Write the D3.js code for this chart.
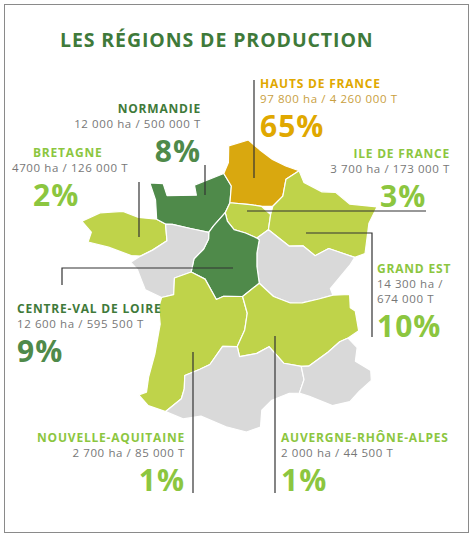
<!DOCTYPE html>
<html><head><meta charset="utf-8">
<script src="https://cdn.jsdelivr.net/npm/d3@7"></script>
<style>body{margin:0;background:#fff}text{font-family:"Open Sans",sans-serif}</style>
</head><body><svg id="c" width="474" height="537"></svg>
<script>
const title = "LES RÉGIONS DE PRODUCTION";
const regionNames = ["HAUTS DE FRANCE","NORMANDIE","BRETAGNE","ILE DE FRANCE","GRAND EST","CENTRE-VAL DE LOIRE","NOUVELLE-AQUITAINE","AUVERGNE-RHÔNE-ALPES"];
const surfaces = ["97 800 ha / 4 260 000 T","12 000 ha / 500 000 T","4700 ha / 126 000 T","3 700 ha / 173 000 T","14 300 ha /|674 000 T","12 600 ha / 595 500 T","2 700 ha / 85 000 T","2 000 ha / 44 500 T"];
const shares = [65,8,2,3,10,9,1,1];
const shapes = {
 "BRETAGNE":[[-1.5,48.63],[-2.3,48.65],[-3.0,48.8],[-4.0,48.7],[-4.75,48.4],[-4.3,48.1],[-4.4,47.8],[-3.5,47.7],[-2.5,47.5],[-2.1,47.5],[-1.6,47.7],[-1.0,48.0],[-1.1,48.5]],
 "NORMANDIE":[[-1.5,48.63],[-1.6,49.2],[-1.9,49.7],[-1.3,49.7],[-1.1,49.35],[0.2,49.4],[0.1,49.7],[1.4,50.07],[1.75,49.7],[1.7,49.2],[1.5,48.9],[1.0,48.5],[0.8,48.3],[0.0,48.4],[-0.8,48.5],[-1.1,48.5]],
 "HAUTS DE FRANCE":[[1.4,50.07],[1.6,50.4],[1.6,50.9],[2.5,51.08],[3.0,50.8],[3.6,50.5],[4.2,50.3],[4.8,50.15],[4.2,49.9],[4.05,49.4],[3.6,49.1],[3.1,49.1],[2.6,49.15],[1.7,49.2],[1.75,49.7]],
 "ILE DE FRANCE":[[1.7,49.2],[2.6,49.15],[3.1,49.1],[3.5,48.85],[3.4,48.4],[2.9,48.15],[2.4,48.3],[1.9,48.4],[1.6,48.65],[1.5,48.9]],
 "GRAND EST":[[4.8,50.15],[5.0,49.8],[5.8,49.5],[6.4,49.47],[7.0,49.1],[8.2,48.97],[7.8,48.5],[7.55,47.6],[7.1,47.5],[6.0,47.8],[5.4,47.6],[4.9,47.9],[4.3,47.9],[3.4,48.4],[3.5,48.85],[3.6,49.1],[4.05,49.4],[4.2,49.9]],
 "BFC":[[3.4,48.4],[4.3,47.9],[4.9,47.9],[5.4,47.6],[6.0,47.8],[7.1,47.5],[6.9,47.3],[6.0,46.6],[6.1,46.4],[5.5,46.3],[4.8,46.2],[4.3,46.2],[3.6,46.4],[3.0,46.8],[2.9,47.3],[2.9,47.7],[3.0,48.1],[2.9,48.15]],
 "CENTRE-VAL DE LOIRE":[[0.8,48.3],[1.0,48.5],[1.5,48.9],[1.6,48.65],[1.9,48.4],[2.4,48.3],[2.9,48.15],[3.0,48.1],[2.9,47.7],[2.9,47.3],[3.0,46.8],[2.3,46.4],[1.5,46.4],[1.2,46.3],[0.7,46.9],[0.1,47.1],[0.2,47.5],[0.6,47.8],[0.8,48.1]],
 "PDL":[[-2.1,47.5],[-2.5,47.3],[-2.2,47.1],[-2.0,46.8],[-1.8,46.5],[-1.1,46.3],[-0.6,46.4],[-0.6,46.9],[0.1,47.1],[0.2,47.5],[0.6,47.8],[0.8,48.1],[0.8,48.3],[0.0,48.4],[-0.8,48.5],[-1.1,48.5],[-1.0,48.0],[-1.6,47.7]],
 "NOUVELLE-AQUITAINE":[[-1.1,46.3],[-1.2,46.0],[-1.1,45.5],[-1.25,44.6],[-1.45,43.9],[-1.5,43.45],[-1.8,43.35],[-1.4,43.05],[-0.7,42.9],[-0.1,43.3],[0.0,43.6],[0.0,44.0],[0.6,44.2],[1.0,44.35],[1.5,44.9],[2.1,44.9],[2.4,45.4],[2.5,45.9],[2.3,46.4],[1.5,46.4],[1.2,46.3],[0.7,46.9],[0.1,47.1],[-0.6,46.9],[-0.6,46.4]],
 "AUVERGNE-RHÔNE-ALPES":[[3.0,46.8],[3.6,46.4],[4.3,46.2],[4.8,46.2],[5.5,46.3],[6.1,46.4],[6.8,46.4],[6.8,46.0],[7.0,45.9],[7.1,45.3],[6.65,45.1],[6.3,45.0],[5.8,44.7],[5.0,44.3],[4.7,44.3],[4.0,44.4],[3.4,44.9],[2.9,44.7],[2.2,44.6],[2.1,44.9],[2.4,45.4],[2.5,45.9],[2.3,46.4]],
 "OCC":[[-0.7,42.9],[-0.1,43.3],[0.0,43.6],[0.0,44.0],[0.6,44.2],[1.0,44.35],[1.5,44.9],[2.1,44.9],[2.2,44.6],[2.9,44.7],[3.4,44.9],[4.0,44.4],[4.7,44.3],[4.8,43.9],[4.6,43.5],[4.2,43.5],[3.5,43.3],[3.1,43.0],[3.05,42.5],[2.5,42.35],[1.7,42.5],[0.7,42.8],[0.0,42.7]],
 "PACA":[[4.7,44.3],[5.0,44.3],[5.8,44.7],[6.3,45.0],[6.65,45.1],[7.0,44.8],[6.9,44.4],[7.5,44.1],[7.5,43.8],[7.0,43.5],[6.6,43.2],[5.9,43.1],[5.0,43.4],[4.6,43.5],[4.8,43.9]]
};
const fills = {"HAUTS DE FRANCE":"#d9a80f","NORMANDIE":"#4f8a4a","CENTRE-VAL DE LOIRE":"#4f8a4a","BRETAGNE":"#bfd34a","ILE DE FRANCE":"#bfd34a","GRAND EST":"#bfd34a","NOUVELLE-AQUITAINE":"#bfd34a","AUVERGNE-RHÔNE-ALPES":"#bfd34a"};

const svg = d3.select("#c");
svg.append("rect").attr("x",4.5).attr("y",4.5).attr("width",464).attr("height",528).attr("fill","none").attr("stroke","#8a8a8a");
svg.append("text").attr("x",60).attr("y",47).attr("fill","#3f7a3a").attr("font-size",19.5).attr("font-weight",700).attr("letter-spacing",0.9).text(title);

const all = Object.values(shapes).flat();
const proj = d3.geoConicConformal().parallels([44,49]).rotate([-3,0]).scale(1000).translate([0,0]);
const P = all.map(d=>proj(d));
const sx = d3.scaleLinear().domain(d3.extent(P,d=>d[0])).range([82,377]);
const sy = d3.scaleLinear().domain(d3.extent(P,d=>d[1])).range([140,432]);
const line = d3.line().x(d=>sx(proj(d)[0])).y(d=>sy(proj(d)[1])).curve(d3.curveLinearClosed);
const g = svg.append("g");
for (const [k,pts] of Object.entries(shapes)) {
  g.append("path").attr("d",line(pts)).attr("fill",fills[k]||"#d9d9d9").attr("stroke","#fff").attr("stroke-width",1.2).attr("stroke-linejoin","round");
}
const L = [[[205,165],[205,195]],[[139,182],[139,237]],[[254,80],[254,178]],[[247,211],[426,211]],[[306,233],[372,233],[372,337]],[[62,285],[62,268],[233,268]],[[193,352],[193,493]],[[275,336],[275,493]]];
L.forEach(p=>svg.append("path").attr("d",d3.line()(p)).attr("fill","none").attr("stroke","#333").attr("stroke-width",1.2));

const lab = [
 {x:260,y:88,a:"start",c:"#e0a800",sc:"#c9a040",pc:"#e0a800"},
 {x:201,y:113,a:"end",c:"#3f7a3a",sc:"#777",pc:"#4f8a4a"},
 {x:33,y:157,a:"start",c:"#8cc63f",sc:"#777",pc:"#8cc63f",sx:12},
 {x:450,y:158,a:"end",c:"#8cc63f",sc:"#777",pc:"#8cc63f",px:380,pa:"start"},
 {x:377,y:273,a:"start",c:"#8cc63f",sc:"#777",pc:"#8cc63f"},
 {x:17,y:313,a:"start",c:"#3f7a3a",sc:"#777",pc:"#4f8a4a"},
 {x:185,y:442,a:"end",c:"#8cc63f",sc:"#777",pc:"#8cc63f"},
 {x:281,y:442,a:"start",c:"#8cc63f",sc:"#777",pc:"#8cc63f"}
];
regionNames.forEach((n,i)=>{
  const o = lab[i];
  svg.append("text").attr("x",o.x).attr("y",o.y).attr("text-anchor",o.a).attr("fill",o.c).attr("font-size",12).attr("font-weight",700).attr("letter-spacing",0.8).text(n);
  const parts = surfaces[i].split("|");
  parts.forEach((s,j)=>svg.append("text").attr("x",o.sx??o.x).attr("y",o.y+15+j*15).attr("text-anchor",o.sx?"start":o.a).attr("fill",o.sc).attr("font-size",11.5).attr("letter-spacing",0.6).text(s));
  svg.append("text").attr("x",o.px??o.x).attr("y",o.y+15*parts.length+34).attr("text-anchor",o.pa??o.a).attr("fill",o.pc).attr("font-size",30).attr("font-weight",700).attr("letter-spacing",1).text(shares[i]+"%");
});
</script></body></html>
